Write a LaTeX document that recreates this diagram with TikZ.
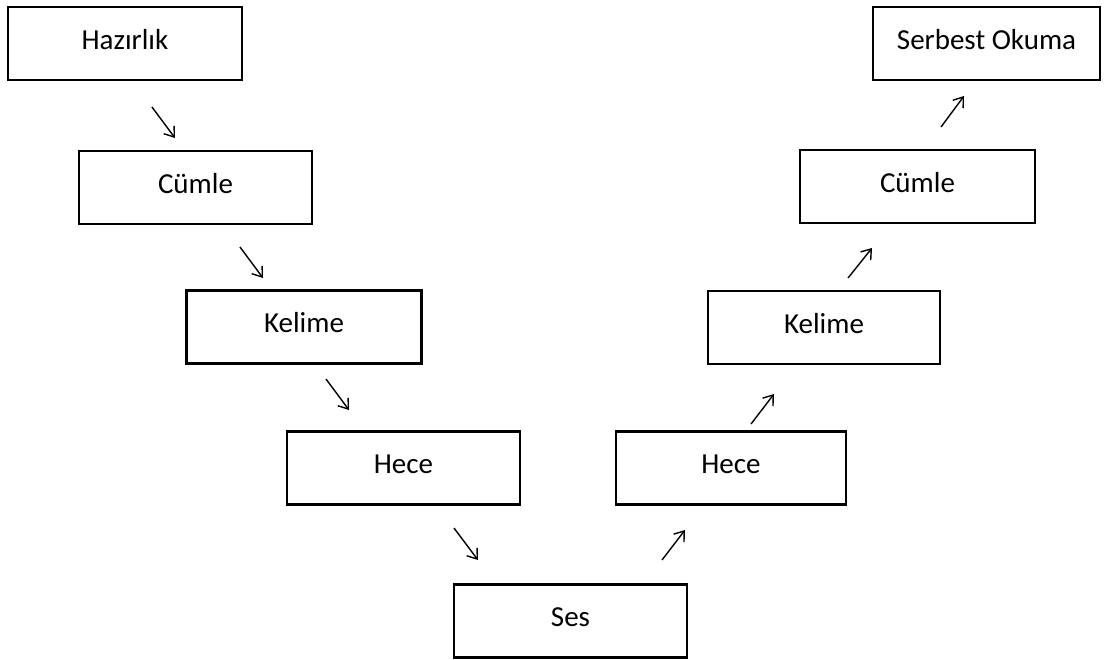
\documentclass[tikz,border=0pt]{standalone}
\usepackage{fontspec}
\setmainfont{Carlito}
\usepackage{tikz}
\usetikzlibrary{arrows.meta}
\tikzset{
  stage/.style={
    rectangle, draw=black, line width=2.5pt,
    minimum width=#1, minimum height=73pt,
    inner sep=0pt, text height=19pt, text depth=8pt,
    font=\fontsize{29}{33}\selectfont
  },
  stage/.default=233pt,
  flow/.style={
    -{Straight Barb[length=9pt, width=13pt]},
    black, line width=1.4pt
  }
}

\begin{document}
\begin{tikzpicture}[x=1pt, y=-1pt]
        \useasboundingbox (0,0) rectangle (1105,659);
        % going down
        \node[stage=234pt] (hazirlik) at (125,43.5) {Hazırlık};
        \node[stage=233pt] (cumleL) at (195.5,187.5) {Cümle};
        \node[stage=235pt] (kelimeL) at (304,327) {Kelime};
        \node[stage=233pt] (heceL) at (403.5,468) {Hece};
        \node[stage=233pt] (ses) at (570.5,621) {Ses};
        % going up
        \node[stage=230pt] (heceR) at (731,468) {Hece};
        \node[stage=232pt] (kelimeR) at (824,327.5) {Kelime};
        \node[stage=235pt] (cumleR) at (917.5,186.5) {Cümle};
        \node[stage=227pt] (serbest) at (986.5,43.5) {Serbest Okuma};
        % arrow ends
        \coordinate (d1a) at (152,107); \coordinate (d1b) at (175,138);
        \coordinate (d2a) at (240,247); \coordinate (d2b) at (263,278);
        \coordinate (d3a) at (326,379); \coordinate (d3b) at (349,410);
        \coordinate (d4a) at (454,528); \coordinate (d4b) at (478,560);
        \coordinate (u1a) at (662,560); \coordinate (u1b) at (685,530);
        \coordinate (u2a) at (751,424); \coordinate (u2b) at (774,394);
        \coordinate (u3a) at (848,278); \coordinate (u3b) at (872,248);
        \coordinate (u4a) at (941,127); \coordinate (u4b) at (964,96);
        \draw[flow] (d1a) -- (d1b);
        \draw[flow] (d2a) -- (d2b);
        \draw[flow] (d3a) -- (d3b);
        \draw[flow] (d4a) -- (d4b);
        \draw[flow] (u1a) -- (u1b);
        \draw[flow] (u2a) -- (u2b);
        \draw[flow] (u3a) -- (u3b);
        \draw[flow] (u4a) -- (u4b);
      \end{tikzpicture}
\end{document}
